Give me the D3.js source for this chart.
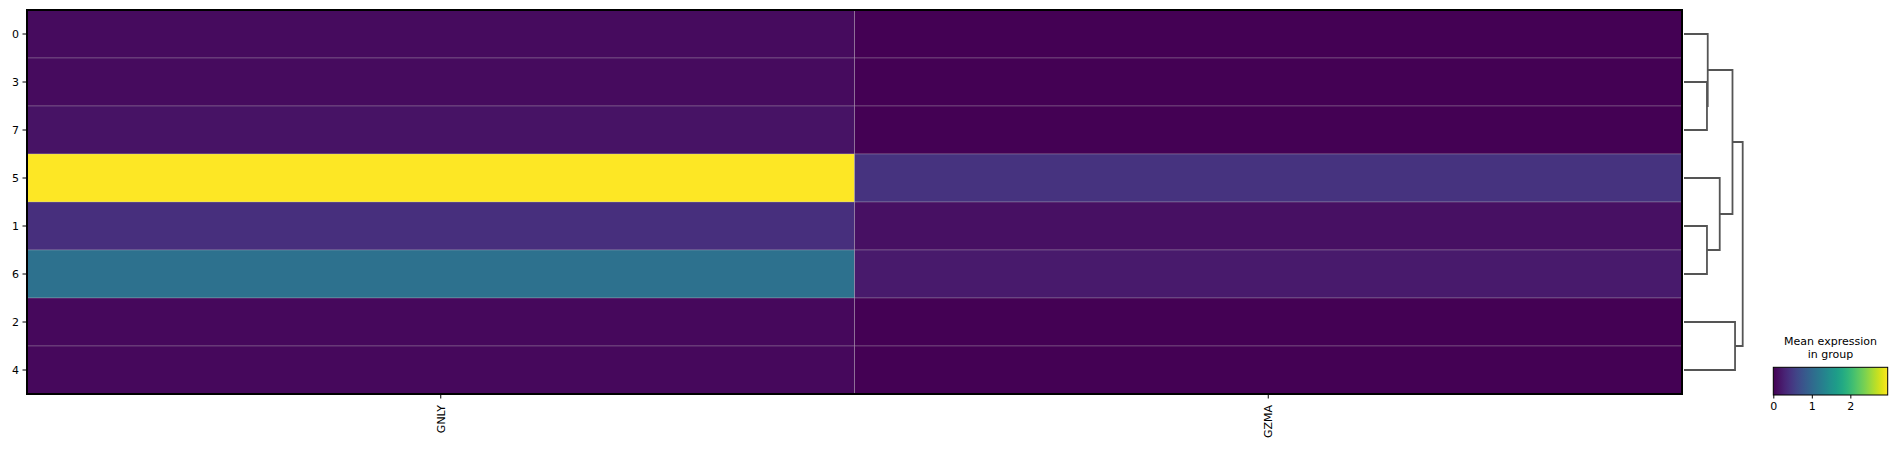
<!DOCTYPE html>
<html><head><meta charset="utf-8">
<script src="https://cdn.jsdelivr.net/npm/d3@7"></script>
<style>body{margin:0;background:#fff}svg{display:block;font-family:"DejaVu Sans",sans-serif}</style>
</head><body><svg id="c" width="1897" height="449"></svg>
<script>
const groups = ["0","3","7","5","1","6","2","4"];
const genes = ["GNLY","GZMA"];
const gnly = [0.09, 0.09, 0.15, 2.97, 0.40, 1.10, 0.06, 0.06];
const gzma = [0.01, 0.01, 0.01, 0.43, 0.12, 0.20, 0.01, 0.01];
const vmax = 2.97;
const cbTicks = [0, 1, 2];
// dendrogram links in scipy style: leaf-position coords and merge heights
const dendroLinks = [
  {y: [2, 2, 1, 1], h: [0, 0.9, 0.9, 0]},
  {y: [0, 0, 1.5, 1.5], h: [0, 0.93, 0.93, 0.9]},
  {y: [4, 4, 5, 5], h: [0, 0.9, 0.9, 0]},
  {y: [3, 3, 4.5, 4.5], h: [0, 1.4, 1.4, 0.9]},
  {y: [0.75, 0.75, 3.75, 3.75], h: [0.93, 1.9, 1.9, 1.4]},
  {y: [6, 6, 7, 7], h: [0, 2.0, 2.0, 0]},
  {y: [2.25, 2.25, 6.5, 6.5], h: [1.9, 2.3, 2.3, 2.0]}
];
const values = [gnly, gzma];
const FS = 11;

const svg = d3.select("#c");
const L = 27, R = 1682, T = 10, B = 394;
const x = d3.scaleBand().domain(genes).range([L, R]);
const y = d3.scaleBand().domain(groups).range([T, B]);
const color = v => d3.interpolateViridis(v / vmax);

const cells = [];
genes.forEach((g,gi)=>groups.forEach((r,ri)=>cells.push({g, r, v: values[gi][ri]})));
svg.append("g").selectAll("rect").data(cells).join("rect")
  .attr("x", d=>x(d.g)).attr("y", d=>y(d.r))
  .attr("width", x.bandwidth()).attr("height", y.bandwidth())
  .attr("fill", d=>color(d.v))
  .attr("stroke", "rgba(200,200,200,0.35)").attr("stroke-width", 0.8);

svg.append("rect").attr("x", L).attr("y", T).attr("width", R-L).attr("height", B-T)
  .attr("fill","none").attr("stroke","#000").attr("stroke-width",2);

// y axis
const yAx = svg.append("g").attr("transform", `translate(${L-1},0)`)
  .call(d3.axisLeft(y).tickSize(3.5).tickPadding(3.5));
yAx.select(".domain").remove();
yAx.selectAll("text").attr("font-size", FS).attr("fill","#000").attr("font-family","DejaVu Sans");
yAx.selectAll("line").attr("stroke","#000");

// x axis
const xAx = svg.append("g").attr("transform", `translate(0,${B+1})`)
  .call(d3.axisBottom(x).tickSize(3.5).tickPadding(0));
xAx.select(".domain").remove();
xAx.selectAll("line").attr("stroke","#000");
xAx.selectAll("text").attr("font-size", FS).attr("fill","#000").attr("font-family","DejaVu Sans")
  .attr("transform","rotate(-90)").attr("text-anchor","end")
  .attr("x", -10).attr("y", 0).attr("dy","0.35em");

// dendrogram
const dx = d3.scaleLinear().domain([0, 2.3]).range([1684, 1742.7]);
const dy = d3.scaleLinear().domain([0, 7]).range([y(groups[0]) + y.bandwidth()/2, y(groups[7]) + y.bandwidth()/2]);
svg.append("g").selectAll("path").data(dendroLinks).join("path")
  .attr("d", d => d3.line()(d.y.map((yy,i)=>[dx(d.h[i]), dy(yy)])))
  .attr("fill","none").attr("stroke","#555").attr("stroke-width",1.8);

// colorbar
const cbL = 1773.3, cbR = 1887.7, cbT = 367.3, cbB = 395;
const grad = svg.append("defs").append("linearGradient").attr("id","vir");
d3.range(0, 1.0001, 0.05).forEach(t => grad.append("stop").attr("offset", t).attr("stop-color", d3.interpolateViridis(t)));
svg.append("rect").attr("x",cbL).attr("y",cbT).attr("width",cbR-cbL).attr("height",cbB-cbT)
  .attr("fill","url(#vir)").attr("stroke","#000").attr("stroke-width",1);
const cx = d3.scaleLinear().domain([0, vmax]).range([cbL, cbR]);
const cAx = svg.append("g").attr("transform", `translate(0,${cbB})`)
  .call(d3.axisBottom(cx).tickValues(cbTicks).tickFormat(d3.format("d")).tickSize(3.5).tickPadding(3.5));
cAx.select(".domain").remove();
cAx.selectAll("line").attr("stroke","#000");
cAx.selectAll("text").attr("font-size",FS).attr("fill","#000").attr("font-family","DejaVu Sans");
const cbt = svg.append("text").attr("x", (cbL+cbR)/2).attr("text-anchor","middle")
  .attr("font-size",FS).attr("fill","#000");
cbt.append("tspan").attr("x",(cbL+cbR)/2).attr("y",345).text("Mean expression");
cbt.append("tspan").attr("x",(cbL+cbR)/2).attr("y",357.5).text("in group");
</script></body></html>
